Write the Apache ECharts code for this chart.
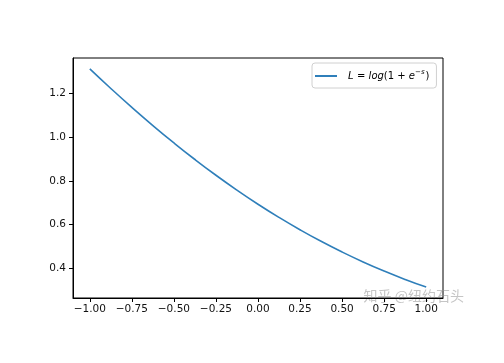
<!DOCTYPE html>
<html><head><meta charset="utf-8">
<script src="https://cdn.jsdelivr.net/npm/echarts@6/dist/echarts.min.js"></script>
<style>html,body{margin:0;padding:0;background:#fff}#c{width:504px;height:363px}</style>
</head><body><div id="c"></div>
<script>
const sValues = [-1, -0.875, -0.75, -0.625, -0.5, -0.375, -0.25, -0.125, 0, 0.125, 0.25, 0.375, 0.5, 0.625, 0.75, 0.875, 1];
const lossValues = [1.3133, 1.2235, 1.1369, 1.0537, 0.9741, 0.8981, 0.8259, 0.7576, 0.6931, 0.6326, 0.5760, 0.5231, 0.4741, 0.4287, 0.3869, 0.3485, 0.3133];
const xTicks = [-1, -0.75, -0.5, -0.25, 0, 0.25, 0.5, 0.75, 1];
const yTicks = [0.4, 0.6, 0.8, 1.0, 1.2];
const seriesName = 'L = log(1 + e^-s)';
const watermark = '知乎 @纽约石头';

const fmt = (v, d) => v.toFixed(d).replace('-', '\u2212');
const font = 'DejaVu Sans';
const chart = echarts.init(document.getElementById('c'), null, {renderer: 'canvas'});
chart.setOption({
  animation: false,
  backgroundColor: '#fff',
  grid: {left: 73, right: 61, top: 58, bottom: 65, show: true, borderColor: '#000', borderWidth: 1, containLabel: false},
  xAxis: {
    type: 'value', min: -1.1, max: 1.1,
    splitLine: {show: false},
    axisLine: {show: true, onZero: false, lineStyle: {color: '#000', width: 1}},
    axisTick: {show: true, length: 4, lineStyle: {color: '#000'}, customValues: xTicks},
    axisLabel: {customValues: xTicks, formatter: v => fmt(v, 2), color: '#111', fontFamily: font, fontSize: 10.5, margin: 6}
  },
  yAxis: {
    type: 'value', min: 0.2633, max: 1.3633,
    splitLine: {show: false},
    axisLine: {show: true, onZero: false, lineStyle: {color: '#000', width: 1}},
    axisTick: {show: true, length: 4, lineStyle: {color: '#000'}, customValues: yTicks},
    axisLabel: {customValues: yTicks, formatter: v => fmt(v, 1), color: '#111', fontFamily: font, fontSize: 10.5, margin: 7}
  },
  legend: {
    show: true, left: 312, top: 63, orient: 'vertical',
    backgroundColor: '#fff', borderColor: '#d0d0d0', borderWidth: 1, borderRadius: 3,
    padding: [6, 7, 6, 3],
    icon: 'rect', itemWidth: 22, itemHeight: 2, itemGap: 6,
    formatter: () => '{g|}{i|L} {t|=} {i|log}{t|(1 + }{i|e}{s|\u2212s}{t|)}',
    textStyle: {
      rich: {
        g: {width: 6},
        i: {fontStyle: 'italic', fontFamily: font, fontSize: 10, color: '#000'},
        t: {fontFamily: font, fontSize: 10, color: '#000'},
        s: {fontStyle: 'italic', fontFamily: font, fontSize: 7, color: '#000', padding: [0, 1, 7, 0]}
      }
    },
    data: [seriesName]
  },
  graphic: [{
    type: 'text', right: 40, top: 289, silent: true,
    style: {text: watermark, fill: 'rgba(150,150,150,0.55)', font: '14px "Noto Sans CJK SC"'}
  }],
  series: [{
    name: seriesName, type: 'line', data: sValues.map((s, i) => [s, lossValues[i]]),
    smooth: true, showSymbol: false, symbol: 'none',
    lineStyle: {color: '#2f7fba', width: 1.6}, itemStyle: {color: '#2f7fba'}
  }]
});
</script></body></html>
